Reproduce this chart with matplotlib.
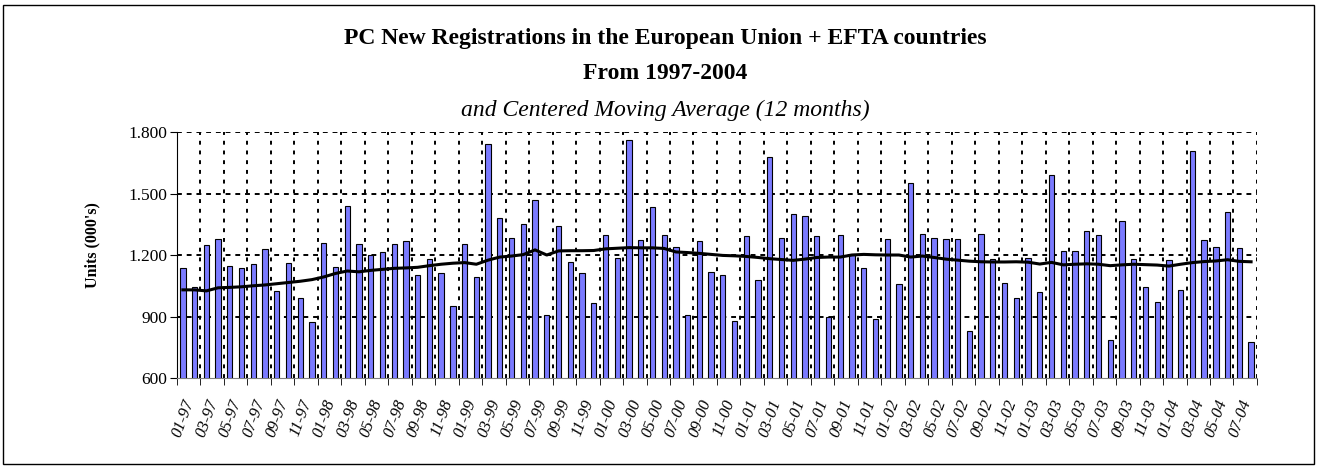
import numpy as np
import matplotlib.pyplot as plt
from matplotlib.ticker import FuncFormatter, FixedLocator

plt.rcParams['font.family'] = ['Liberation Serif', 'DejaVu Serif']

# months Jan 1997 - Aug 2004
months = ['%02d-%02d' % (m, y % 100) for y in range(1997, 2005) for m in range(1, 13)][:92]

# new registrations (000's)
units = [1137, 1046, 1247, 1279, 1148, 1137, 1154, 1227, 1025, 1161, 992, 874,
         1258, 1142, 1440, 1252, 1198, 1213, 1252, 1266, 1103, 1182, 1114, 953,
         1252, 1091, 1741, 1383, 1284, 1351, 1468, 908, 1343, 1168, 1114, 966,
         1297, 1187, 1760, 1274, 1433, 1299, 1239, 908, 1266, 1115, 1103, 880,
         1292, 1077, 1677, 1284, 1402, 1389, 1292, 897, 1297, 1206, 1137, 887,
         1279, 1057, 1551, 1304, 1284, 1278, 1278, 829, 1304, 1180, 1064, 992,
         1187, 1018, 1590, 1219, 1219, 1318, 1297, 783, 1364, 1180, 1044, 971,
         1174, 1030, 1707, 1273, 1239, 1409, 1232, 777]

# centered moving average (12 months)
cma = [1030, 1030, 1025, 1040, 1042, 1045, 1050, 1054, 1060, 1066, 1072, 1080,
       1093, 1110, 1122, 1118, 1125, 1130, 1135, 1137, 1140, 1148, 1155, 1160,
       1163, 1155, 1175, 1190, 1195, 1202, 1225, 1200, 1220, 1221, 1221, 1222,
       1230, 1233, 1236, 1235, 1235, 1232, 1215, 1212, 1208, 1203, 1198, 1196,
       1193, 1188, 1182, 1178, 1174, 1180, 1188, 1190, 1190, 1200, 1203, 1201,
       1200, 1200, 1190, 1195, 1188, 1180, 1175, 1170, 1167, 1166, 1166, 1167,
       1165, 1156, 1164, 1152, 1155, 1157, 1155, 1148, 1152, 1155, 1153, 1151,
       1146, 1155, 1163, 1168, 1171, 1177, 1169, 1167]

x = np.arange(len(units))

fig = plt.figure(figsize=(13.17, 4.68), dpi=100)
ax = fig.add_axes([0.1344, 0.1923, 0.8200, 0.5256])

ax.bar(x, units, width=0.45, color='#7b7bff', edgecolor='black', linewidth=0.8, zorder=3)
ax.plot(x, cma, color='black', linewidth=2.2, zorder=4)

ax.set_xlim(-0.5, len(units) - 0.5)
ax.set_ylim(600, 1800)
ax.set_yticks([600, 900, 1200, 1500, 1800])
ax.yaxis.set_major_formatter(FuncFormatter(lambda v, p: '{:,.0f}'.format(v).replace(',', '.')))

# labels on every other month, ticks/grid at category boundaries
ax.set_xticks(x[::2])
ax.set_xticklabels(months[::2], rotation=70, ha='right', va='top',
                   rotation_mode='anchor', fontstyle='italic', fontsize=12)
ax.tick_params(axis='x', which='major', length=0, pad=14)
ax.xaxis.set_minor_locator(FixedLocator(np.arange(-0.5, len(units), 2)))
ax.tick_params(axis='x', which='minor', length=5, direction='out')
ax.tick_params(axis='y', length=5, direction='out', labelsize=12.5, pad=2)

for b in np.arange(1.5, len(units), 2):
    ax.axvline(b, color='black', linestyle=(0, (2, 3)), linewidth=1.4, zorder=1)
for v in [900, 1200, 1500, 1800]:
    ax.axhline(v, color='black', linestyle=(0, (2.5, 2.5)), linewidth=1.4, zorder=1)

for s in ['top', 'right']:
    ax.spines[s].set_visible(False)
ax.spines['bottom'].set_color('#808080')

ax.set_ylabel("Units (000's)", fontweight='bold', fontsize=11.5)
ax.yaxis.set_label_coords(-0.071, 0.54)

fig.text(0.505, 0.917, 'PC New Registrations in the European Union + EFTA countries',
         ha='center', va='center', fontweight='bold', fontsize=17)
fig.text(0.505, 0.842, 'From 1997-2004', ha='center', va='center', fontweight='bold', fontsize=17)
fig.text(0.505, 0.765, 'and Centered Moving Average (12 months)', ha='center', va='center',
         fontstyle='italic', fontsize=17)

fig.patches.append(plt.Rectangle((0.002, 0.008), 0.996, 0.982, transform=fig.transFigure,
                                 fill=False, edgecolor='black', linewidth=1))

plt.savefig('out.png')
